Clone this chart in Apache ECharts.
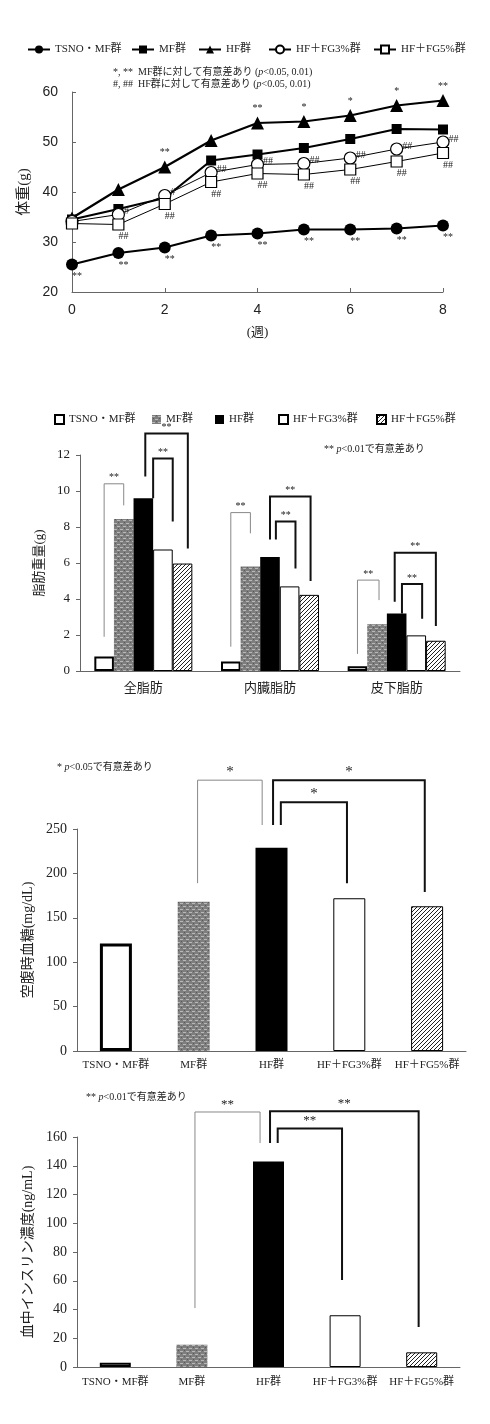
<!DOCTYPE html>
<html>
<head>
<meta charset="utf-8">
<title>体重・脂肪重量・空腹時血糖・血中インスリン</title>
<script src="https://cdn.jsdelivr.net/npm/echarts@6/dist/echarts.min.js"></script>
<style>
body{margin:0;background:#fff;}
.box{position:absolute;left:0;width:490px;}
</style>
</head>
<body>
<div id="chart1" class="box" style="top:0;height:360px;"></div>
<div id="chart2" class="box" style="top:390px;height:330px;"></div>
<div id="chart3" class="box" style="top:740px;height:340px;"></div>
<div id="chart4" class="box" style="top:1080px;height:344px;"></div>
<script type="text/javascript">
var SERIF = '"Liberation Serif","Noto Sans CJK JP",serif';
var SANS = '"Liberation Sans","Noto Sans CJK JP",sans-serif';

var groupNames = ['TSNO・MF群', 'MF群', 'HF群', 'HF＋FG3%群', 'HF＋FG5%群'];

// 1. 体重推移
var weeks = [0, 1, 2, 3, 4, 5, 6, 7, 8];
var tsnoWeight = [25.5, 27.8, 28.9, 31.3, 31.7, 32.5, 32.5, 32.7, 33.3];
var mfWeight = [34.5, 36.6, 38.8, 46.3, 47.5, 48.8, 50.6, 52.6, 52.5];
var hfWeight = [34.8, 40.5, 45.0, 50.3, 53.8, 54.1, 55.3, 57.3, 58.3];
var fg3Weight = [34.1, 35.5, 39.3, 43.9, 45.5, 45.7, 46.8, 48.6, 50.0];
var fg5Weight = [33.7, 33.5, 37.6, 42.0, 43.7, 43.5, 44.5, 46.1, 47.8];
var tsnoMarks = ['**', '**', '**', '**', '**', '**', '**', '**', '**'];
var hfMarks = ['', '', '**', '', '**', '*', '*', '*', '**'];
var fg3Marks = ['', '#', '#', '##', '##', '##', '##', '##', '##'];
var fg5Marks = ['', '##', '##', '##', '##', '##', '##', '##', '##'];

// 2. 脂肪重量
var fatCats = ['全脂肪', '内臓脂肪', '皮下脂肪'];
var tsnoFat = [0.8, 0.53, 0.27];
var mfFat = [8.45, 5.8, 2.6];
var hfFat = [9.6, 6.33, 3.2];
var fg3Fat = [6.75, 4.7, 1.98];
var fg5Fat = [5.97, 4.23, 1.68];
// [カテゴリ, 左バー, 左下端, 上端, 右バー, 右下端, 太線]
var fatBrackets = [
    [0, 0, 1.9, 10.4, 1, 9.2, 0],
    [0, 2.1, 10.8, 13.2, 4.27, 6.8, 1],
    [0, 2.5, 9.6, 11.8, 3.5, 8.3, 1],
    [1, 0, 1.35, 8.8, 1, 7.65, 0],
    [1, 2, 7.3, 9.7, 4.07, 5.0, 1],
    [1, 2.3, 7.3, 8.3, 3.3, 5.7, 1],
    [2, 0, 0.95, 5.05, 1.1, 3.94, 0],
    [2, 1.9, 3.85, 6.57, 4.0, 2.5, 1],
    [2, 2.27, 3.2, 4.83, 3.3, 2.9, 1]
];
var fatBracketMarks = ['**', '**', '**', '**', '**', '**', '**', '**', '**'];

// 3. 空腹時血糖
var glucose = [121, 168, 229, 172, 163];
// [左位置, 左下端, 上端, 右位置, 右下端, 太線]
var glucoseBrackets = [
    [1.05, 189, 305, 1.88, 254.5, 0],
    [2.02, 254.5, 305, 3.97, 179, 1],
    [2.12, 254.5, 280, 2.97, 189, 1]
];
var glucoseMarks = ['*', '*', '*'];

// 4. 血中インスリン濃度
var insulin = [3, 15.5, 143, 36, 10.2];
var insulinBrackets = [
    [1.04, 41, 177.4, 1.89, 155.8, 0],
    [2.02, 155.8, 178, 3.96, 27.8, 1],
    [2.12, 155.8, 166, 2.96, 60.5, 1]
];
var insulinMarks = ['**', '**', '**'];

// 塗りパターン
function grayPattern() {
    var c = document.createElement('canvas');
    c.width = 6; c.height = 6;
    var g = c.getContext('2d');
    g.fillStyle = '#7e7e7e'; g.fillRect(0, 0, 6, 6);
    g.fillStyle = '#b8b8b8'; g.fillRect(0, 1, 3, 1); g.fillRect(3, 4, 3, 1);
    g.fillStyle = '#595959'; g.fillRect(4, 0, 1, 1); g.fillRect(1, 3, 1, 1);
    return c;
}
function hatchPattern() {
    var s = 4;
    var c = document.createElement('canvas');
    c.width = s; c.height = s;
    var g = c.getContext('2d');
    g.fillStyle = '#fff'; g.fillRect(0, 0, s, s);
    g.strokeStyle = '#222'; g.lineWidth = 1;
    g.beginPath();
    g.moveTo(0, s); g.lineTo(s, 0);
    g.moveTo(-1, 1); g.lineTo(1, -1);
    g.moveTo(s - 1, s + 1); g.lineTo(s + 1, s - 1);
    g.stroke();
    return c;
}
var GRAY = {image: grayPattern(), repeat: 'repeat'};
var HATCH = {image: hatchPattern(), repeat: 'repeat'};

function barStyles(tsnoBorder) {
    return [
        {color: '#fff', borderColor: '#000', borderWidth: tsnoBorder},
        {color: GRAY},
        {color: '#000'},
        {color: '#fff', borderColor: '#000', borderWidth: 1},
        {color: HATCH, borderColor: '#000', borderWidth: 1}
    ];
}

function bracketShape(x1, y1, yt, x2, y2, thick, mark, fontSize) {
    return {
        type: 'group',
        children: [{
            type: 'polyline',
            shape: {points: [[x1, y1], [x1, yt], [x2, yt], [x2, y2]]},
            style: {stroke: thick ? '#111' : '#888', lineWidth: thick ? 2 : 1, fill: null}
        }, {
            type: 'text',
            x: (x1 + x2) / 2, y: yt - 1,
            style: {text: mark, fontSize: fontSize, fontFamily: SERIF, fill: '#222',
                textAlign: 'center', textVerticalAlign: 'bottom'}
        }]
    };
}

function yAxisBase(min, max, interval, name, gap, nameSize, labelFont, labelSize) {
    return {
        type: 'value', min: min, max: max, interval: interval,
        name: name, nameLocation: 'middle', nameGap: gap, nameRotate: 90,
        nameTextStyle: {fontFamily: SERIF, fontSize: nameSize, color: '#222'},
        axisLine: {show: true, lineStyle: {color: '#666'}},
        axisTick: {show: true, length: 4, lineStyle: {color: '#666'}},
        axisLabel: {fontFamily: labelFont, fontSize: labelSize, color: '#222', margin: 10},
        splitLine: {show: false}
    };
}

// ---------- 1. 体重 ----------
var myChart1 = echarts.init(document.getElementById('chart1'));
function pairs(v) { return weeks.map(function (w, i) { return [w, v[i]]; }); }
function markLabel(marks, pos, off) {
    return {show: true, position: pos, distance: 1, offset: off, color: '#222',
        fontSize: 10, fontFamily: SERIF,
        formatter: function (p) { return marks[p.dataIndex]; }};
}
var legendLeft1 = [22, 126, 193, 263, 368];
var y1 = yAxisBase(20, 60, 10, '体重(g)', 33, 15, SANS, 14);
y1.axisTick.inside = true;
y1.axisLabel.margin = 14;
myChart1.setOption({
    animation: false,
    legend: groupNames.map(function (n, i) {
        return {data: [n], left: legendLeft1[i], top: 39, itemWidth: 22, itemHeight: 10,
            selectedMode: false, textStyle: {fontFamily: SERIF, fontSize: 11, color: '#222'}};
    }),
    grid: {left: 72, top: 92, width: 371, height: 200},
    xAxis: {
        type: 'value', min: 0, max: 8, interval: 2,
        name: '(週)', nameLocation: 'middle', nameGap: 34,
        nameTextStyle: {fontFamily: SERIF, fontSize: 13, color: '#222'},
        axisLine: {lineStyle: {color: '#666'}},
        axisTick: {inside: true, length: 4, lineStyle: {color: '#666'}},
        axisLabel: {fontFamily: SANS, fontSize: 14, color: '#222', margin: 11},
        splitLine: {show: false}
    },
    yAxis: y1,
    graphic: [{
        type: 'text', left: 113, top: 67,
        style: {text: '*, **  MF群に対して有意差あり ({i|p}<0.05, 0.01)', fontSize: 10,
            fontFamily: SERIF, fill: '#222',
            rich: {i: {fontStyle: 'italic', fontSize: 10, fontFamily: SERIF}}}
    }, {
        type: 'text', left: 113, top: 79,
        style: {text: '#, ##  HF群に対して有意差あり ({i|p}<0.05, 0.01)', fontSize: 10,
            fontFamily: SERIF, fill: '#222',
            rich: {i: {fontStyle: 'italic', fontSize: 10, fontFamily: SERIF}}}
    }],
    series: [{
        name: groupNames[0], type: 'line', data: pairs(tsnoWeight),
        symbol: 'circle', symbolSize: 12, itemStyle: {color: '#000'},
        lineStyle: {color: '#000', width: 2.2}, label: markLabel(tsnoMarks, 'bottom', [5, 0])
    }, {
        name: groupNames[1], type: 'line', data: pairs(mfWeight),
        symbol: 'rect', symbolSize: 10, itemStyle: {color: '#000'},
        lineStyle: {color: '#000', width: 2.2}
    }, {
        name: groupNames[2], type: 'line', data: pairs(hfWeight),
        symbol: 'triangle', symbolSize: 13, itemStyle: {color: '#000'},
        lineStyle: {color: '#000', width: 2.2}, label: markLabel(hfMarks, 'top', [0, -2])
    }, {
        name: groupNames[3], type: 'line', data: pairs(fg3Weight),
        symbol: 'circle', symbolSize: 12,
        itemStyle: {color: '#fff', borderColor: '#000', borderWidth: 1.2},
        lineStyle: {color: '#000', width: 1}, label: markLabel(fg3Marks, 'right', [-2, -3])
    }, {
        name: groupNames[4], type: 'line', data: pairs(fg5Weight),
        symbol: 'rect', symbolSize: 11,
        itemStyle: {color: '#fff', borderColor: '#000', borderWidth: 1.2},
        lineStyle: {color: '#000', width: 1}, label: markLabel(fg5Marks, 'bottom', [5, 0])
    }]
});

// ---------- 2. 脂肪重量 ----------
var myChart2 = echarts.init(document.getElementById('chart2'));
var BW2 = 19.6;
var styles2 = barStyles(2);
var fatSeries = [tsnoFat, mfFat, hfFat, fg3Fat, fg5Fat];
var legendLeft2 = [49, 147, 210, 273, 371];
var series2 = fatSeries.map(function (vals, i) {
    return {name: groupNames[i], type: 'bar', data: vals, barWidth: BW2, barGap: '0%',
        itemStyle: styles2[i]};
});
series2.push({
    type: 'custom', data: fatBrackets, clip: false, silent: true, z: 5,
    renderItem: function (params, api) {
        var cat = api.value(0);
        var c = api.coord([cat, 0])[0];
        function px(b) { return c + (b - 2) * BW2; }
        function py(v) { return api.coord([cat, v])[1]; }
        return bracketShape(px(api.value(1)), py(api.value(2)), py(api.value(3)),
            px(api.value(4)), py(api.value(5)), api.value(6),
            fatBracketMarks[params.dataIndex], 10);
    }
});
myChart2.setOption({
    animation: false,
    legend: groupNames.map(function (n, i) {
        return {data: [n], left: legendLeft2[i], top: 19, icon: 'rect', itemWidth: 9, itemHeight: 9,
            itemGap: 2, selectedMode: false, textStyle: {fontFamily: SERIF, fontSize: 11, color: '#222'}};
    }),
    grid: {left: 80, top: 65, width: 380, height: 216},
    xAxis: {
        type: 'category', data: fatCats,
        axisLine: {lineStyle: {color: '#666'}},
        axisTick: {length: 4, lineStyle: {color: '#666'}},
        axisLabel: {interval: 0, fontFamily: SERIF, fontSize: 13, color: '#222', margin: 11}
    },
    yAxis: yAxisBase(0, 12, 2, '脂肪重量(g)', 27, 13, SERIF, 13),
    graphic: [{
        type: 'text', left: 324, top: 54,
        style: {text: '** {i|p}<0.01で有意差あり', fontSize: 10, fontFamily: SERIF, fill: '#222',
            rich: {i: {fontStyle: 'italic', fontSize: 10, fontFamily: SERIF}}}
    }],
    series: series2
});

// ---------- 3, 4. 単一バー ----------
function singleBarChart(domId, values, brackets, marks, opt) {
    var chart = echarts.init(document.getElementById(domId));
    var styles = barStyles(opt.tsnoBorder);
    chart.setOption({
        animation: false,
        grid: opt.grid,
        xAxis: {
            type: 'category', data: groupNames,
            axisLine: {lineStyle: {color: '#666'}},
            axisTick: {length: 4, lineStyle: {color: '#666'}},
            axisLabel: {interval: 0, fontFamily: SERIF, fontSize: 11, color: '#222', margin: opt.labelMargin}
        },
        yAxis: yAxisBase(0, opt.max, opt.interval, opt.yName, opt.nameGap, 14, SERIF, 14),
        graphic: [{
            type: 'text', left: opt.noteLeft, top: opt.noteTop,
            style: {text: opt.note, fontSize: 10, fontFamily: SERIF, fill: '#222',
                rich: {i: {fontStyle: 'italic', fontSize: 10, fontFamily: SERIF}}}
        }],
        series: [{
            type: 'bar', barWidth: opt.barWidth,
            data: values.map(function (v, i) { return {value: v, itemStyle: styles[i]}; })
        }, {
            type: 'custom', clip: false, silent: true, z: 5,
            data: brackets.map(function (b) { return [Math.round(b[0])].concat(b); }),
            renderItem: function (params, api) {
                var band = api.size([1, 0])[0];
                function px(x) { var k = Math.round(x); return api.coord([k, 0])[0] + (x - k) * band; }
                function py(v) { return api.coord([0, v])[1]; }
                return bracketShape(px(api.value(1)), py(api.value(2)), py(api.value(3)),
                    px(api.value(4)), py(api.value(5)), api.value(6),
                    marks[params.dataIndex], opt.markSize);
            }
        }]
    });
    return chart;
}

var myChart3 = singleBarChart('chart3', glucose, glucoseBrackets, glucoseMarks, {
    grid: {left: 77, top: 89, width: 389, height: 222},
    max: 250, interval: 50, yName: '空腹時血糖(mg/dL)', nameGap: 37,
    tsnoBorder: 3, barWidth: 32, labelMargin: 9, markSize: 15,
    note: '* {i|p}<0.05で有意差あり', noteLeft: 57, noteTop: 22
});

var myChart4 = singleBarChart('chart4', insulin, insulinBrackets, insulinMarks, {
    grid: {left: 77, top: 57, width: 383, height: 230},
    max: 160, interval: 20, yName: '血中インスリン濃度(ng/mL)', nameGap: 37,
    tsnoBorder: 2, barWidth: 31, labelMargin: 10, markSize: 13,
    note: '** {i|p}<0.01で有意差あり', noteLeft: 86, noteTop: 12
});
</script>
</body>
</html>
